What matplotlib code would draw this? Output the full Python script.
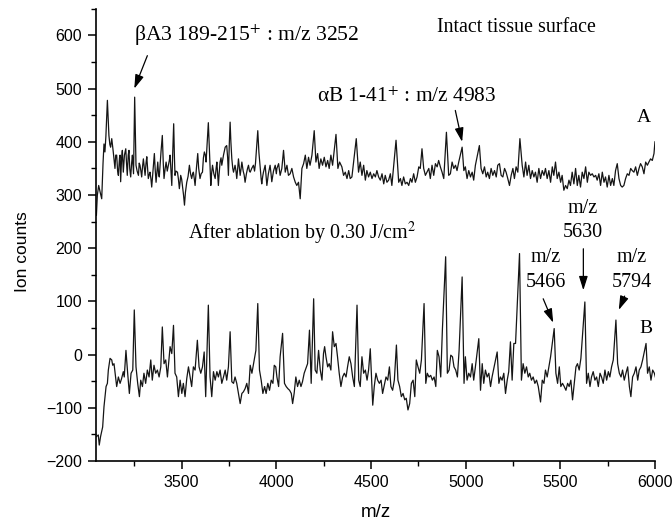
import matplotlib
matplotlib.use("Agg")
import matplotlib.pyplot as plt
from matplotlib.ticker import MultipleLocator

plt.rcParams['mathtext.fontset'] = 'stix'

# ---- Trace A: intact tissue surface (m/z, ion counts) ----
mzA = [3050, 3055, 3062, 3070, 3078, 3085, 3090, 3095, 3100, 3108, 3116, 3121, 3125, 3131, 3139, 3148,
       3152, 3157, 3162, 3166, 3172, 3175, 3178, 3183, 3187, 3192, 3198, 3205, 3209, 3213, 3218, 3222,
       3226, 3231, 3236, 3240, 3246, 3252, 3259, 3265, 3272, 3276, 3280, 3285, 3289, 3294, 3298, 3303,
       3307, 3312, 3316, 3320, 3324, 3330, 3333, 3338, 3342, 3350, 3356, 3360, 3365, 3370, 3374, 3378,
       3382, 3387, 3391, 3398, 3403, 3407, 3413, 3418, 3424, 3430, 3435, 3439, 3444, 3448, 3453, 3458,
       3462, 3465, 3470, 3478, 3483, 3488, 3492, 3495, 3500, 3504, 3510, 3515, 3520, 3527, 3534, 3541,
       3547, 3553, 3558, 3562, 3567, 3571, 3578, 3585, 3590, 3597, 3603, 3610, 3615, 3620, 3625, 3629,
       3635, 3641, 3647, 3654, 3658, 3663, 3670, 3677, 3682, 3686, 3690, 3694, 3698, 3703, 3708, 3712,
       3716, 3721, 3730, 3738, 3743, 3747, 3752, 3756, 3760, 3765, 3770, 3774, 3778, 3782, 3787, 3791,
       3796, 3800, 3805, 3809, 3814, 3818, 3825, 3830, 3835, 3842, 3848, 3853, 3858, 3862, 3870, 3879,
       3885, 3890, 3896, 3902, 3908, 3915, 3920, 3923, 3928, 3932, 3937, 3941, 3946, 3950, 3958, 3967,
       3972, 3976, 3985, 3994, 4000,
       4003, 4012, 4020, 4029, 4038, 4047, 4056, 4064, 4073, 4082, 4091, 4100, 4108, 4117, 4126, 4135,
       4144, 4153, 4161, 4170, 4178, 4188, 4200, 4209, 4218, 4226, 4235, 4244, 4253, 4262, 4271, 4279,
       4288, 4297, 4315, 4325, 4334, 4346, 4355, 4364, 4373, 4382, 4390, 4399, 4422, 4434, 4443, 4452,
       4461, 4470, 4478, 4487, 4496, 4505, 4514, 4523, 4531, 4540, 4549, 4558, 4567, 4575, 4584, 4593,
       4602, 4610, 4632, 4646, 4655, 4663, 4672, 4681, 4690, 4699, 4708, 4716, 4725, 4734, 4743, 4752,
       4760, 4769, 4778, 4787, 4805, 4813, 4822, 4831, 4840, 4849, 4857, 4866, 4875, 4884, 4898, 4910,
       4919, 4928, 4937, 4946, 4954, 4963, 4981, 4990, 4998,
       5007, 5016, 5025, 5034, 5042, 5051, 5072, 5081, 5090, 5099, 5108, 5116, 5125, 5134, 5143, 5152,
       5161, 5169, 5178, 5187, 5196, 5205, 5213, 5222, 5231, 5240, 5249, 5257, 5266, 5275, 5286, 5298,
       5307, 5316, 5324, 5333, 5342, 5351, 5360, 5368, 5377, 5386, 5395, 5404, 5413, 5421, 5430, 5439,
       5448, 5457, 5465, 5474, 5483, 5492, 5501, 5509, 5518, 5527, 5536, 5545, 5553, 5562, 5571, 5580,
       5589, 5597, 5606, 5615, 5624, 5633, 5642, 5650, 5659, 5668, 5677, 5686, 5694, 5703, 5712, 5721,
       5730, 5738, 5747, 5756, 5765, 5774, 5782, 5791, 5800, 5809, 5818, 5826, 5835, 5844, 5853, 5862,
       5871, 5879, 5888, 5897, 5906, 5915, 5923, 5932, 5941, 5950, 5959, 5967, 5976, 5985, 5994, 5999]
countsA = [262, 300, 318, 305, 293, 360, 396, 381, 410, 478, 412, 395, 390, 406, 381, 350,
           375, 375, 345, 337, 370, 375, 325, 370, 384, 343, 375, 387, 360, 337, 375, 384,
           350, 334, 360, 375, 340, 484, 356, 345, 337, 360, 356, 345, 334, 355, 368, 350,
           337, 360, 372, 350, 331, 340, 343, 330, 315, 350, 378, 350, 324, 345, 362, 340,
           334, 360, 381, 412, 360, 331, 350, 362, 345, 356, 365, 375, 345, 318, 380, 434,
           370, 337, 345, 343, 330, 312, 325, 337, 330, 318, 300, 281, 305, 324, 335, 356,
           340, 331, 340, 343, 330, 318, 350, 378, 350, 331, 340, 343, 370, 381, 375, 362,
           400, 436, 380, 318, 340, 356, 340, 331, 350, 362, 340, 318, 340, 362, 370, 356,
           365, 375, 390, 393, 370, 337, 400, 437, 400, 368, 350, 343, 350, 356, 345, 331,
           350, 368, 350, 337, 350, 362, 345, 338, 324, 340, 350, 356, 345, 343, 350, 356,
           345, 360, 390, 421, 380, 350, 330, 321, 335, 343, 350, 356, 335, 318, 340, 356,
           340, 325, 345, 356, 340,
           350, 359, 337, 350, 384, 343, 356, 337, 340, 350, 334, 324, 318, 324, 293, 350,
           359, 375, 350, 371, 356, 375, 421, 362, 378, 350, 368, 356, 371, 353, 365, 350,
           375, 356, 414, 350, 362, 353, 337, 343, 331, 346, 331, 334, 406, 343, 362, 337,
           356, 328, 346, 334, 343, 331, 340, 334, 346, 334, 328, 340, 321, 337, 324, 328,
           340, 318, 403, 324, 331, 318, 334, 321, 324, 318, 331, 324, 340, 324, 334, 353,
           350, 387, 350, 337, 350, 331, 356, 337, 359, 353, 365, 353, 343, 331, 418, 337,
           340, 362, 350, 356, 346, 362, 390, 346, 353,
           331, 346, 334, 343, 328, 356, 393, 350, 340, 353, 334, 343, 331, 350, 337, 346,
           334, 356, 359, 337, 334, 350, 343, 331, 318, 337, 350, 331, 353, 343, 406, 356,
           334, 362, 337, 356, 331, 346, 334, 343, 324, 350, 331, 346, 337, 350, 331, 346,
           324, 353, 337, 362, 331, 343, 324, 337, 309, 318, 312, 328, 318, 343, 321, 350,
           318, 337, 315, 343, 331, 353, 324, 343, 337, 340, 334, 337, 328, 340, 318, 343,
           324, 334, 315, 337, 318, 331, 318, 346, 359, 331, 318, 315, 318, 331, 340, 337,
           350, 346, 343, 353, 337, 350, 359, 353, 340, 362, 356, 362, 368, 365, 378, 400]

# ---- Trace B: after ablation by 0.30 J/cm2 (m/z, ion counts) ----
mzB = [3050, 3060, 3065, 3072, 3083, 3090, 3101, 3108, 3113, 3122, 3131, 3136, 3143, 3148, 3157, 3166,
       3175, 3183, 3192, 3197, 3206, 3215, 3224, 3233, 3242, 3250, 3259, 3268, 3277, 3284, 3293, 3301,
       3310, 3319, 3328, 3337, 3345, 3354, 3363, 3372, 3381, 3390, 3398, 3407, 3416, 3425, 3434, 3439,
       3448, 3457, 3465, 3474, 3483, 3492, 3501, 3509, 3518, 3527, 3536, 3545, 3553, 3562, 3571, 3583,
       3592, 3601, 3610, 3619, 3627, 3641, 3650, 3659, 3668, 3677, 3686, 3694, 3703, 3712, 3721, 3730,
       3738, 3747, 3756, 3765, 3774, 3782, 3791, 3800, 3809, 3818, 3826, 3835, 3844, 3853, 3862, 3871,
       3883, 3892, 3902, 3911, 3920, 3929, 3938, 3946, 3955, 3964, 3973, 3982, 3989, 3997,
       4003, 4012, 4020, 4033, 4043, 4052, 4061, 4070, 4079, 4086, 4094, 4103, 4112, 4121, 4130, 4138,
       4147, 4156, 4165, 4175, 4184, 4197, 4205, 4214, 4223, 4232, 4241, 4249, 4255, 4262, 4271, 4279,
       4288, 4297, 4306, 4315, 4323, 4332, 4341, 4350, 4359, 4368, 4376, 4385, 4394, 4403, 4412, 4426,
       4435, 4443, 4452, 4461, 4470, 4479, 4487, 4496, 4509, 4517, 4526, 4535, 4544, 4553, 4561, 4570,
       4579, 4588, 4597, 4605, 4614, 4623, 4634, 4642, 4651, 4660, 4669, 4678, 4686, 4695, 4704, 4713,
       4722, 4731, 4739, 4748, 4757, 4766, 4780, 4789, 4797, 4806, 4815, 4824, 4833, 4842, 4850, 4859,
       4868, 4877, 4894, 4903, 4912, 4921, 4930, 4938, 4947, 4956, 4965, 4981, 4991,
       4998, 5007, 5016, 5025, 5034, 5042, 5051, 5069, 5078, 5087, 5095, 5104, 5113, 5122, 5131, 5139,
       5166, 5175, 5183, 5192, 5201, 5210, 5219, 5227, 5236, 5245, 5254, 5263, 5284, 5294, 5303, 5312,
       5321, 5330, 5338, 5347, 5356, 5365, 5374, 5383, 5395, 5404, 5413, 5421, 5430, 5439, 5448, 5467,
       5476, 5485, 5494, 5502, 5511, 5520, 5529, 5538, 5546, 5555, 5564, 5573, 5582, 5590, 5599, 5608,
       5629, 5638, 5647, 5656, 5664, 5673, 5682, 5691, 5700, 5709, 5717, 5726, 5735, 5744, 5753, 5761,
       5770, 5779, 5793, 5802, 5811, 5820, 5828, 5837, 5846, 5855, 5864, 5872, 5881, 5890, 5899, 5908,
       5916, 5925, 5934, 5952, 5960, 5969, 5978, 5987, 5996, 6001]
countsB = [-154, -151, -170, -154, -136, -98, -60, -54, -29, -7, -10, -20, -17, -32, -60, -42,
           -54, -45, -32, -42, 8, -35, -73, -35, -29, 84, -23, -54, -79, -48, -60, -35,
           -54, -29, -42, -10, -48, -20, -35, -29, -42, -23, 52, -17, -10, -42, -4, 15,
           2, 55, -35, -42, -79, -48, -73, -54, -79, -45, -23, -42, -60, -23, -29, 27,
           -23, -35, -23, 5, -79, 93, -42, -79, -32, -48, -32, -42, -29, -54, -42, -29,
           -48, -23, 43, -51, -54, -42, -54, -73, -92, -73, -70, -64, -54, -73, -20, -35,
           -10, 8, 96, -29, -48, -73, -60, -73, -54, -67, -48, -54, -20, -23,
           -42, -60, -4, 40, -54, -60, -64, -67, -73, -92, -73, -42, -60, -48, -60, -51,
           -35, -26, -17, 46, -54, 105, -29, -35, 8, -29, -48, 2, 15, -4, -23, -17,
           -29, 43, 15, 21, -4, -35, -60, -42, -35, -42, -23, -4, -17, -42, -60, 93,
           -48, -60, -4, -35, -29, -48, -29, 11, -95, -60, -35, -48, -54, -48, -73, -57,
           -42, -48, -23, -60, -67, -48, 18, -48, -60, -79, -73, -85, -82, -104, -92, -54,
           -48, -79, -10, -23, -35, -10, 96, -54, -35, -42, -39, -48, -42, -60, 8, -4,
           -42, 49, 184, -35, -29, -1, -4, -23, -29, -42, 8, 146, -54,
           -4, -48, -35, -42, -17, -48, -23, 30, -67, -17, -54, -29, -42, -35, -60, -42,
           5, -54, -42, -48, -35, -73, -48, -32, 24, -48, 21, 21, 190, -48, -17, -35,
           -23, -42, -35, -48, -42, -54, -48, -60, -89, -48, -54, -29, -42, -23, -4, 49,
           -35, -54, -23, -60, -54, -60, -67, -54, -60, -48, -85, -54, -23, -17, -29, -7,
           99, -54, -35, -60, -42, -32, -48, -42, -60, -35, -42, -54, -29, -48, -32, -42,
           -23, -10, 65, -17, -35, -42, -29, -48, -35, -23, -60, -79, -42, -35, -23, -48,
           -29, -23, -10, 21, -35, -23, -48, -29, -35, -42]

x_ticks = [3500, 4000, 4500, 5000, 5500, 6000]
y_ticks = [-200, -100, 0, 100, 200, 300, 400, 500, 600]

SERIF = "Liberation Serif"
SANS = "Liberation Sans"

fig = plt.figure(figsize=(6.72, 5.27), dpi=100)
ax = fig.add_axes([0.1429, 0.1252, 0.832, 0.858])

ax.plot(mzA, countsA, color="#151515", lw=0.9)
ax.plot(mzB, countsB, color="#151515", lw=0.9)

ax.set_xlim(3048, 6000)
ax.set_ylim(-200, 650)
ax.set_xticks(x_ticks)
ax.set_yticks(y_ticks)
ax.xaxis.set_minor_locator(MultipleLocator(250))
ax.yaxis.set_minor_locator(MultipleLocator(50))
for s in ("top", "right"):
    ax.spines[s].set_visible(False)
for s in ("left", "bottom"):
    ax.spines[s].set_linewidth(1.2)
ax.tick_params(which="major", direction="out", length=6, width=1.1, pad=4)
ax.tick_params(which="minor", direction="out", length=3.5, width=1.0)
for lab in ax.get_xticklabels() + ax.get_yticklabels():
    lab.set_fontfamily(SANS)
    lab.set_fontsize(11.5)

ax.set_xlabel("m/z", fontfamily=SANS, fontsize=13.5, labelpad=10)
ax.set_ylabel("Ion counts", fontfamily=SANS, fontsize=12.5)
ax.yaxis.set_label_coords(-0.118, 0.462)

aprops = dict(arrowstyle="-|>,head_length=0.7,head_width=0.22", color="black", lw=0.9,
              mutation_scale=12, shrinkA=0, shrinkB=0)

ax.text(3249, 600, r"βA3 189-215$^{+}$ : m/z 3252", fontfamily=SERIF, fontsize=15.6, va="center", ha="left")
ax.annotate("", xy=(3250, 500), xytext=(3319, 562), arrowprops=aprops)

ax.text(4216, 484, r"αB 1-41$^{+}$ : m/z 4983", fontfamily=SERIF, fontsize=15.4, va="center", ha="left")
ax.annotate("", xy=(4981, 400), xytext=(4945, 459), arrowprops=aprops)

ax.text(4850, 615, "Intact tissue surface", fontfamily=SERIF, fontsize=14.4, va="center", ha="left")
ax.text(5939, 446, "A", fontfamily=SERIF, fontsize=14, va="center", ha="center")

ax.text(3534, 228, r"After ablation by 0.30 J/cm$^{2}$", fontfamily=SERIF, fontsize=14.4, va="center", ha="left")

ax.text(5617, 275, "m/z", fontfamily=SERIF, fontsize=14.5, va="center", ha="center")
ax.text(5617, 230, "5630", fontfamily=SERIF, fontsize=14.5, va="center", ha="center")
ax.annotate("", xy=(5621, 121), xytext=(5621, 199), arrowprops=aprops)

ax.text(5421, 183, "m/z", fontfamily=SERIF, fontsize=14.5, va="center", ha="center")
ax.text(5421, 136, "5466", fontfamily=SERIF, fontsize=14.5, va="center", ha="center")
ax.annotate("", xy=(5462, 60), xytext=(5409, 105), arrowprops=aprops)

ax.text(5876, 183, "m/z", fontfamily=SERIF, fontsize=14.5, va="center", ha="center")
ax.text(5876, 136, "5794", fontfamily=SERIF, fontsize=14.5, va="center", ha="center")
ax.annotate("", xy=(5808, 84), xytext=(5839, 110), arrowprops=aprops)

ax.text(5949, 50, "B", fontfamily=SERIF, fontsize=14, va="center", ha="center")

fig.savefig("out.png", dpi=100)
